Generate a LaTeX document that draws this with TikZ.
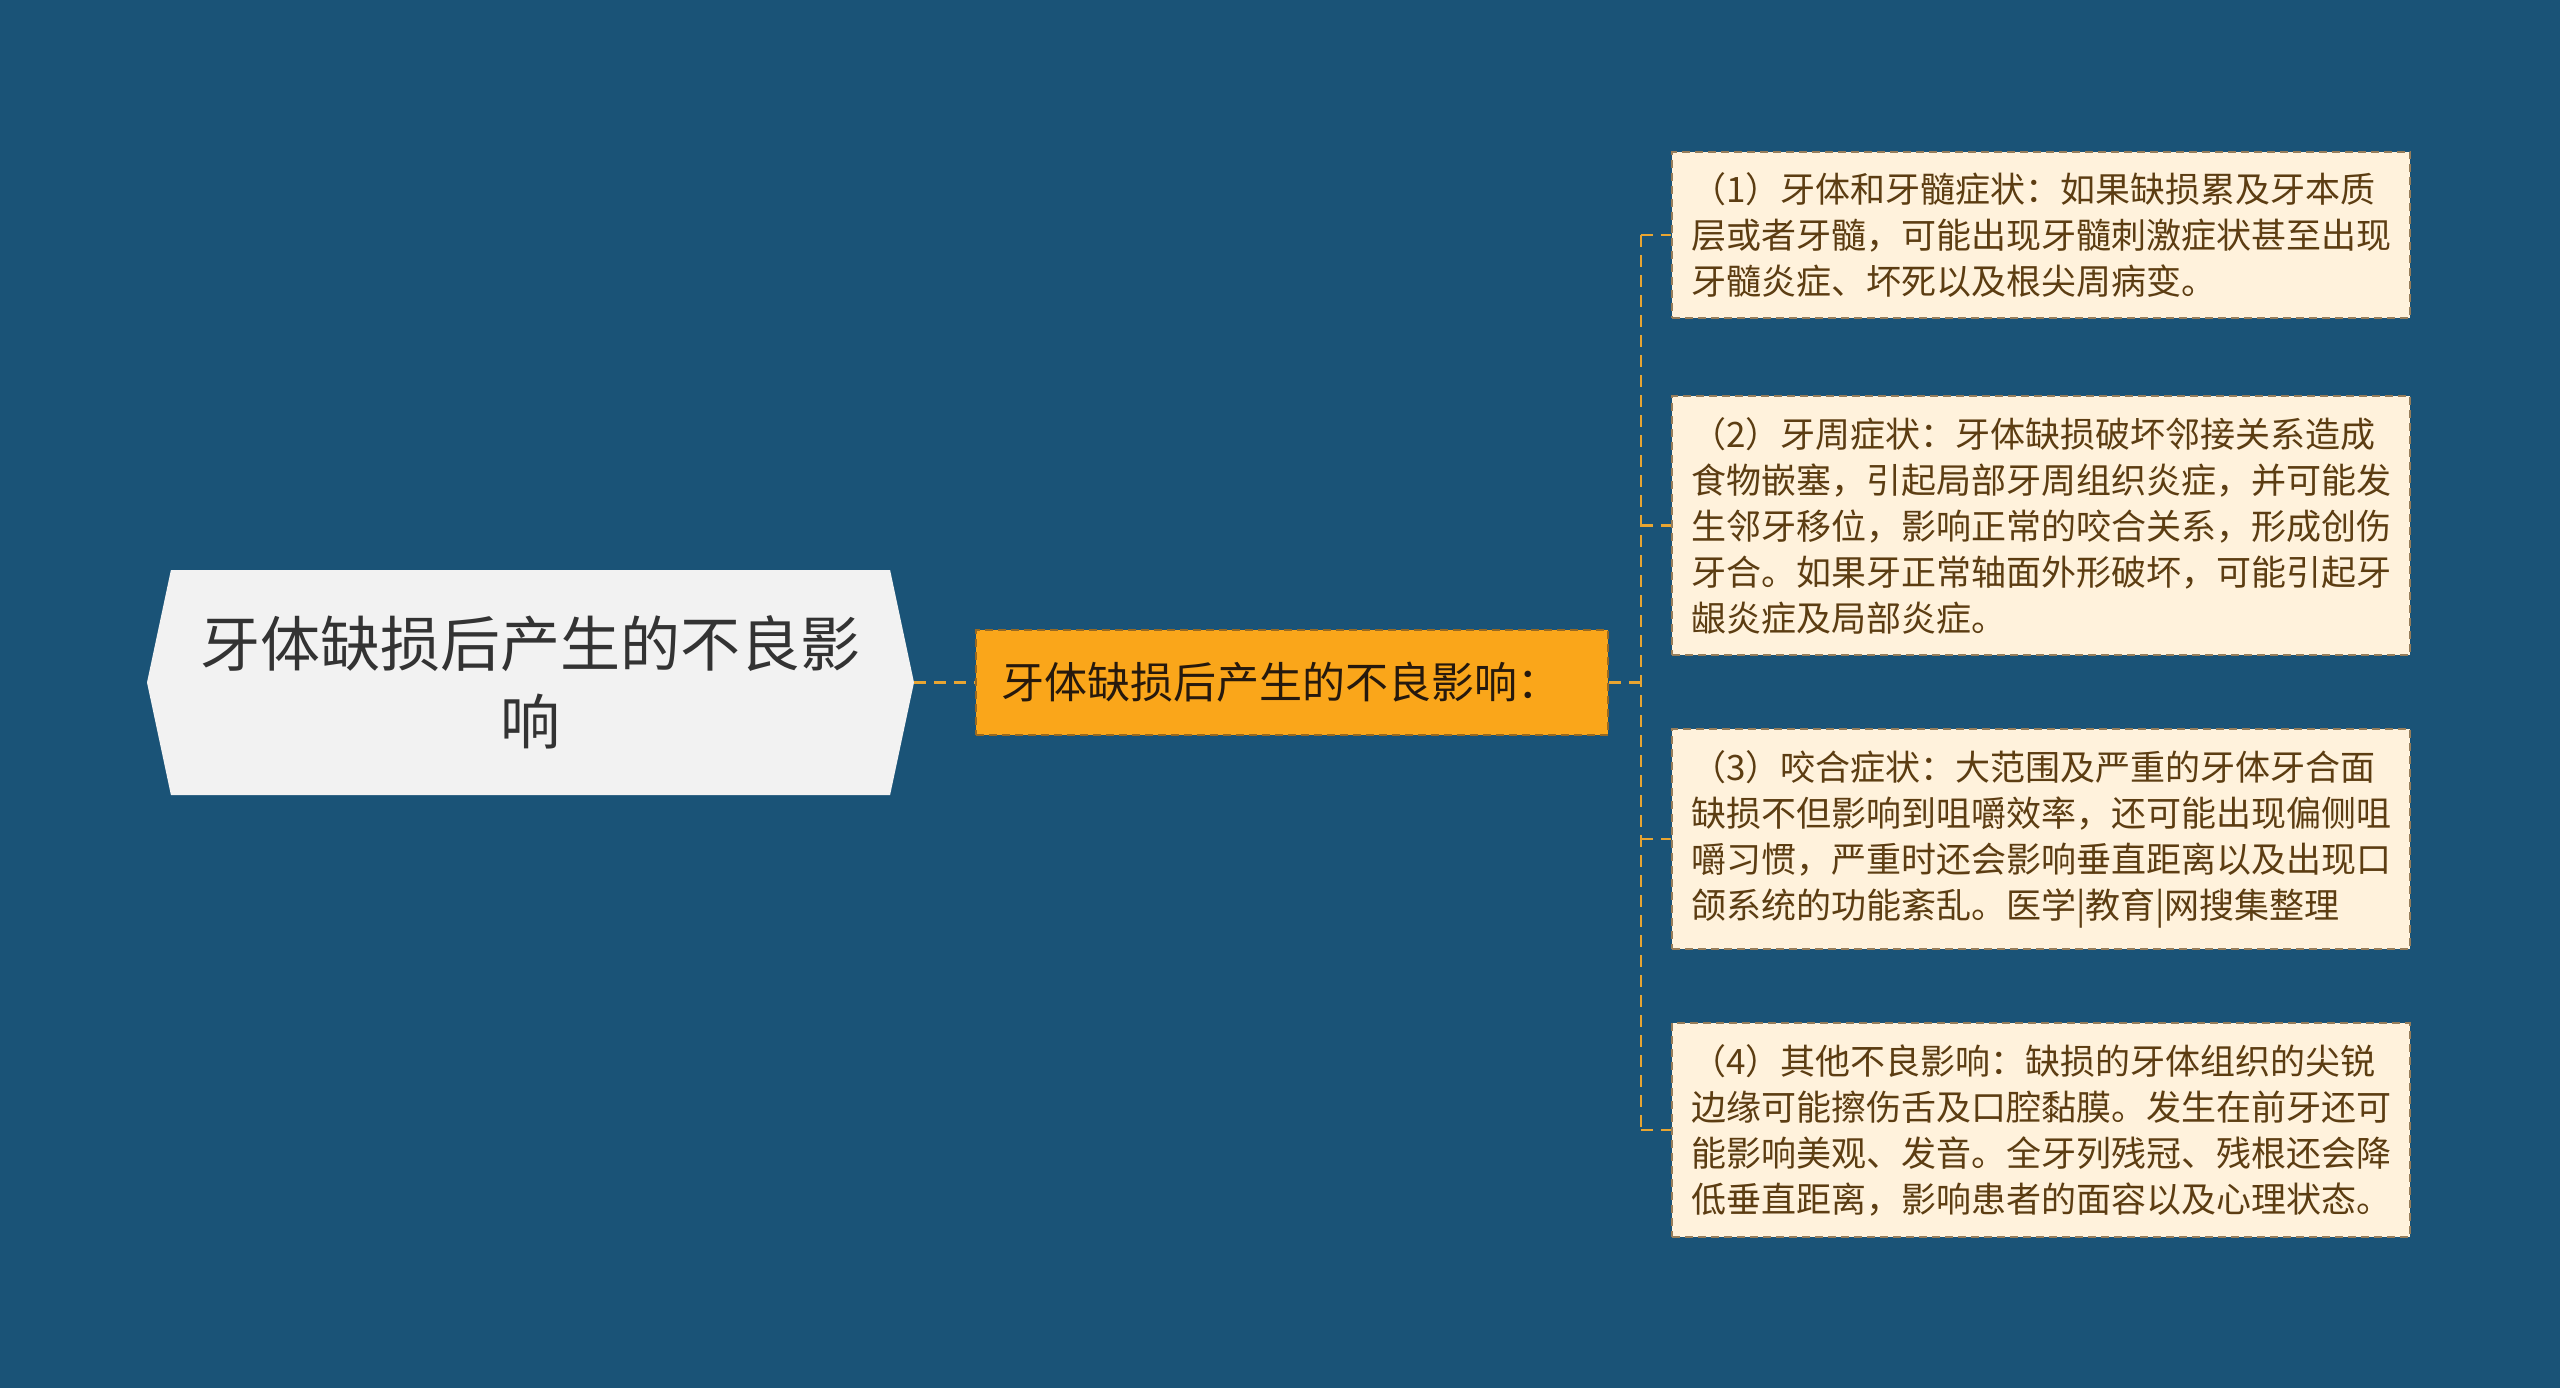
\documentclass[tikz,border=0pt]{standalone}
\usepackage{fontspec}
\newfontfamily\cjk{Noto Sans CJK SC}
\usetikzlibrary{shapes.symbols}

\definecolor{bgblue}{RGB}{26,83,119}
\definecolor{rootgray}{RGB}{242,242,242}
\definecolor{midorange}{RGB}{250,166,26}
\definecolor{midline}{RGB}{150,105,35}
\definecolor{leafcream}{RGB}{255,242,220}
\definecolor{leafline}{RGB}{150,125,90}
\definecolor{leaftext}{RGB}{92,61,18}
\definecolor{linkgold}{RGB}{232,165,50}

\begin{document}
\begin{tikzpicture}[x=1pt,y=-1pt,
    rootnode/.style={shape=signal,signal to=west and east,signal pointer angle=156,
        fill=rootgray,text=black!80,minimum width=767pt,minimum height=225pt,
        align=center,font=\cjk\fontsize{60pt}{78pt}\selectfont},
    midnode/.style={draw=midline,line width=2pt,dash pattern=on 8pt off 5pt,fill=midorange,
        text=black!80!brown,text width=582pt,inner xsep=25pt,align=left,minimum height=105pt,
        font=\cjk\fontsize{43pt}{52pt}\selectfont},
    leafnode/.style={draw=leafline,line width=2pt,dash pattern=on 8pt off 5pt,fill=leafcream,
        text=leaftext,text width=700pt,inner xsep=19pt,inner ysep=21pt,align=left,
        font=\cjk\fontsize{35pt}{46pt}\selectfont},
    link/.style={draw=linkgold,line width=2.5pt,dash pattern=on 12pt off 8pt}]
    \fill[bgblue] (0,0) rectangle (2560,1388);
    \useasboundingbox (0,0) rectangle (2560,1388);

    \node[rootnode] (root) at (530.5,682.5) {牙体缺损后产生的不良影\\响};
    \node[midnode] (mid) at (1292,682.5) {牙体缺损后产生的不良影响：};
    \coordinate (bus) at (1641,682.5);

    \node[leafnode] (l1) at (2041,235) {（1）牙体和牙髓症状：如果缺损累及牙本质\\层或者牙髓，可能出现牙髓刺激症状甚至出现\\牙髓炎症、坏死以及根尖周病变。};
    \node[leafnode] (l2) at (2041,525.5) {（2）牙周症状：牙体缺损破坏邻接关系造成\\食物嵌塞，引起局部牙周组织炎症，并可能发\\生邻牙移位，影响正常的咬合关系，形成创伤\\牙合。如果牙正常轴面外形破坏，可能引起牙\\龈炎症及局部炎症。};
    \node[leafnode] (l3) at (2041,839) {（3）咬合症状：大范围及严重的牙体牙合面\\缺损不但影响到咀嚼效率，还可能出现偏侧咀\\嚼习惯，严重时还会影响垂直距离以及出现口\\颌系统的功能紊乱。医学|教育|网搜集整理};
    \node[leafnode] (l4) at (2041,1130) {（4）其他不良影响：缺损的牙体组织的尖锐\\边缘可能擦伤舌及口腔黏膜。发生在前牙还可\\能影响美观、发音。全牙列残冠、残根还会降\\低垂直距离，影响患者的面容以及心理状态。};

    \draw[link] (root.east) -- (mid.west);
    \draw[link] (mid.east) -- (bus);
    \draw[link] (bus |- l1.west) -- (bus |- l4.west);
    \draw[link] (bus |- l1.west) -- (l1.west);
    \draw[link] (bus |- l2.west) -- (l2.west);
    \draw[link] (bus |- l3.west) -- (l3.west);
    \draw[link] (bus |- l4.west) -- (l4.west);
\end{tikzpicture}
\end{document}
